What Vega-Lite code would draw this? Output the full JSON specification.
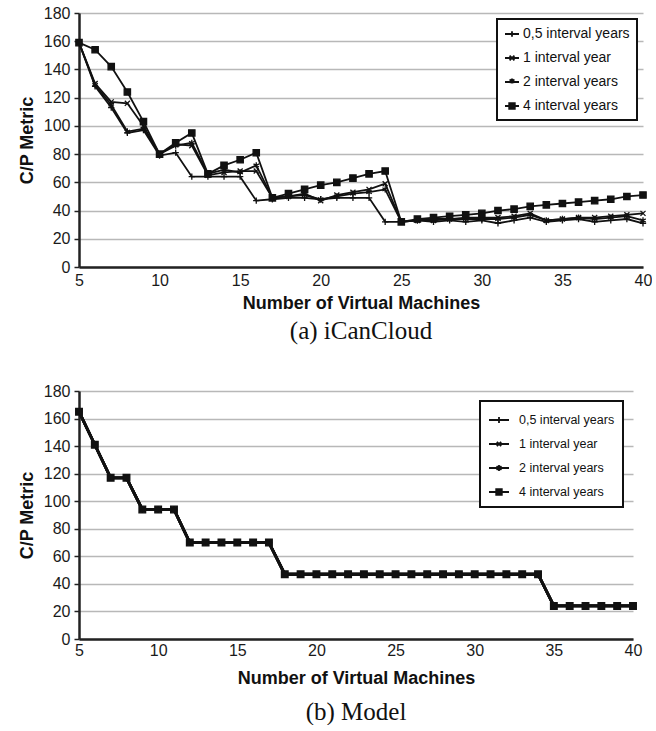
{
  "$schema": "https://vega.github.io/schema/vega-lite/v6.json",
  "background": "white",
  "padding": {"left": 18, "top": 5, "right": 0, "bottom": 0},
  "spacing": 39,
  "config": {
    "view": {"stroke": null},
    "font": "Liberation Sans",
    "axis": {
      "labelFont": "Liberation Sans", "labelFontSize": 16, "labelColor": "#1a1a1a",
      "titleFont": "Liberation Sans", "titleFontSize": 18, "titleFontWeight": "bold", "titleColor": "#111",
      "domainColor": "#222", "domainWidth": 2.5,
      "gridColor": "#b8b8b8", "gridWidth": 1.5,
      "tickColor": "#222", "tickWidth": 1.5
    },
    "legend": {
      "title": null, "orient": "top-right",
      "labelFont": "Liberation Sans", "labelColor": "#111",
      "strokeColor": "#111", "strokeWidth": 2, "fillColor": "white", "cornerRadius": 0,
      "symbolOpacity": 1, "symbolStrokeColor": "#111", "symbolStrokeWidth": 1.6
    }
  },
  "datasets": {
    "top": [
      {"series":"0,5 interval years","vms":5,"cp":159},{"series":"0,5 interval years","vms":6,"cp":128},{"series":"0,5 interval years","vms":7,"cp":113},{"series":"0,5 interval years","vms":8,"cp":95},{"series":"0,5 interval years","vms":9,"cp":97},{"series":"0,5 interval years","vms":10,"cp":79},{"series":"0,5 interval years","vms":11,"cp":81},{"series":"0,5 interval years","vms":12,"cp":64},{"series":"0,5 interval years","vms":13,"cp":64},{"series":"0,5 interval years","vms":14,"cp":64},{"series":"0,5 interval years","vms":15,"cp":64},{"series":"0,5 interval years","vms":16,"cp":47},{"series":"0,5 interval years","vms":17,"cp":48},{"series":"0,5 interval years","vms":18,"cp":49},{"series":"0,5 interval years","vms":19,"cp":49},{"series":"0,5 interval years","vms":20,"cp":48},{"series":"0,5 interval years","vms":21,"cp":49},{"series":"0,5 interval years","vms":22,"cp":49},{"series":"0,5 interval years","vms":23,"cp":49},{"series":"0,5 interval years","vms":24,"cp":32},{"series":"0,5 interval years","vms":25,"cp":32},{"series":"0,5 interval years","vms":26,"cp":33},{"series":"0,5 interval years","vms":27,"cp":32},{"series":"0,5 interval years","vms":28,"cp":33},{"series":"0,5 interval years","vms":29,"cp":32},{"series":"0,5 interval years","vms":30,"cp":33},{"series":"0,5 interval years","vms":31,"cp":31},{"series":"0,5 interval years","vms":32,"cp":33},{"series":"0,5 interval years","vms":33,"cp":35},{"series":"0,5 interval years","vms":34,"cp":32},{"series":"0,5 interval years","vms":35,"cp":33},{"series":"0,5 interval years","vms":36,"cp":34},{"series":"0,5 interval years","vms":37,"cp":32},{"series":"0,5 interval years","vms":38,"cp":33},{"series":"0,5 interval years","vms":39,"cp":34},{"series":"0,5 interval years","vms":40,"cp":31},
      {"series":"1 interval year","vms":5,"cp":159},{"series":"1 interval year","vms":6,"cp":130},{"series":"1 interval year","vms":7,"cp":117},{"series":"1 interval year","vms":8,"cp":116},{"series":"1 interval year","vms":9,"cp":100},{"series":"1 interval year","vms":10,"cp":80},{"series":"1 interval year","vms":11,"cp":87},{"series":"1 interval year","vms":12,"cp":86},{"series":"1 interval year","vms":13,"cp":65},{"series":"1 interval year","vms":14,"cp":67},{"series":"1 interval year","vms":15,"cp":68},{"series":"1 interval year","vms":16,"cp":68},{"series":"1 interval year","vms":17,"cp":49},{"series":"1 interval year","vms":18,"cp":50},{"series":"1 interval year","vms":19,"cp":52},{"series":"1 interval year","vms":20,"cp":47},{"series":"1 interval year","vms":21,"cp":51},{"series":"1 interval year","vms":22,"cp":53},{"series":"1 interval year","vms":23,"cp":55},{"series":"1 interval year","vms":24,"cp":59},{"series":"1 interval year","vms":25,"cp":32},{"series":"1 interval year","vms":26,"cp":33},{"series":"1 interval year","vms":27,"cp":33},{"series":"1 interval year","vms":28,"cp":34},{"series":"1 interval year","vms":29,"cp":35},{"series":"1 interval year","vms":30,"cp":35},{"series":"1 interval year","vms":31,"cp":35},{"series":"1 interval year","vms":32,"cp":36},{"series":"1 interval year","vms":33,"cp":38},{"series":"1 interval year","vms":34,"cp":33},{"series":"1 interval year","vms":35,"cp":34},{"series":"1 interval year","vms":36,"cp":35},{"series":"1 interval year","vms":37,"cp":35},{"series":"1 interval year","vms":38,"cp":36},{"series":"1 interval year","vms":39,"cp":37},{"series":"1 interval year","vms":40,"cp":38},
      {"series":"2 interval years","vms":5,"cp":159},{"series":"2 interval years","vms":6,"cp":129},{"series":"2 interval years","vms":7,"cp":115},{"series":"2 interval years","vms":8,"cp":96},{"series":"2 interval years","vms":9,"cp":98},{"series":"2 interval years","vms":10,"cp":80},{"series":"2 interval years","vms":11,"cp":86},{"series":"2 interval years","vms":12,"cp":88},{"series":"2 interval years","vms":13,"cp":66},{"series":"2 interval years","vms":14,"cp":69},{"series":"2 interval years","vms":15,"cp":67},{"series":"2 interval years","vms":16,"cp":72},{"series":"2 interval years","vms":17,"cp":49},{"series":"2 interval years","vms":18,"cp":50},{"series":"2 interval years","vms":19,"cp":51},{"series":"2 interval years","vms":20,"cp":48},{"series":"2 interval years","vms":21,"cp":50},{"series":"2 interval years","vms":22,"cp":52},{"series":"2 interval years","vms":23,"cp":53},{"series":"2 interval years","vms":24,"cp":55},{"series":"2 interval years","vms":25,"cp":32},{"series":"2 interval years","vms":26,"cp":33},{"series":"2 interval years","vms":27,"cp":34},{"series":"2 interval years","vms":28,"cp":34},{"series":"2 interval years","vms":29,"cp":34},{"series":"2 interval years","vms":30,"cp":34},{"series":"2 interval years","vms":31,"cp":34},{"series":"2 interval years","vms":32,"cp":35},{"series":"2 interval years","vms":33,"cp":37},{"series":"2 interval years","vms":34,"cp":33},{"series":"2 interval years","vms":35,"cp":34},{"series":"2 interval years","vms":36,"cp":35},{"series":"2 interval years","vms":37,"cp":34},{"series":"2 interval years","vms":38,"cp":35},{"series":"2 interval years","vms":39,"cp":36},{"series":"2 interval years","vms":40,"cp":33},
      {"series":"4 interval years","vms":5,"cp":159},{"series":"4 interval years","vms":6,"cp":154},{"series":"4 interval years","vms":7,"cp":142},{"series":"4 interval years","vms":8,"cp":124},{"series":"4 interval years","vms":9,"cp":103},{"series":"4 interval years","vms":10,"cp":80},{"series":"4 interval years","vms":11,"cp":88},{"series":"4 interval years","vms":12,"cp":95},{"series":"4 interval years","vms":13,"cp":66},{"series":"4 interval years","vms":14,"cp":72},{"series":"4 interval years","vms":15,"cp":76},{"series":"4 interval years","vms":16,"cp":81},{"series":"4 interval years","vms":17,"cp":49},{"series":"4 interval years","vms":18,"cp":52},{"series":"4 interval years","vms":19,"cp":55},{"series":"4 interval years","vms":20,"cp":58},{"series":"4 interval years","vms":21,"cp":60},{"series":"4 interval years","vms":22,"cp":63},{"series":"4 interval years","vms":23,"cp":66},{"series":"4 interval years","vms":24,"cp":68},{"series":"4 interval years","vms":25,"cp":32},{"series":"4 interval years","vms":26,"cp":34},{"series":"4 interval years","vms":27,"cp":35},{"series":"4 interval years","vms":28,"cp":36},{"series":"4 interval years","vms":29,"cp":37},{"series":"4 interval years","vms":30,"cp":38},{"series":"4 interval years","vms":31,"cp":40},{"series":"4 interval years","vms":32,"cp":41},{"series":"4 interval years","vms":33,"cp":43},{"series":"4 interval years","vms":34,"cp":44},{"series":"4 interval years","vms":35,"cp":45},{"series":"4 interval years","vms":36,"cp":46},{"series":"4 interval years","vms":37,"cp":47},{"series":"4 interval years","vms":38,"cp":48},{"series":"4 interval years","vms":39,"cp":50},{"series":"4 interval years","vms":40,"cp":51}
    ],
    "bottom": [
      {"series":"0,5 interval years","vms":5,"cp":165},{"series":"0,5 interval years","vms":6,"cp":141},{"series":"0,5 interval years","vms":7,"cp":117},{"series":"0,5 interval years","vms":8,"cp":117},{"series":"0,5 interval years","vms":9,"cp":94},{"series":"0,5 interval years","vms":10,"cp":94},{"series":"0,5 interval years","vms":11,"cp":94},{"series":"0,5 interval years","vms":12,"cp":70},{"series":"0,5 interval years","vms":13,"cp":70},{"series":"0,5 interval years","vms":14,"cp":70},{"series":"0,5 interval years","vms":15,"cp":70},{"series":"0,5 interval years","vms":16,"cp":70},{"series":"0,5 interval years","vms":17,"cp":70},{"series":"0,5 interval years","vms":18,"cp":47},{"series":"0,5 interval years","vms":19,"cp":47},{"series":"0,5 interval years","vms":20,"cp":47},{"series":"0,5 interval years","vms":21,"cp":47},{"series":"0,5 interval years","vms":22,"cp":47},{"series":"0,5 interval years","vms":23,"cp":47},{"series":"0,5 interval years","vms":24,"cp":47},{"series":"0,5 interval years","vms":25,"cp":47},{"series":"0,5 interval years","vms":26,"cp":47},{"series":"0,5 interval years","vms":27,"cp":47},{"series":"0,5 interval years","vms":28,"cp":47},{"series":"0,5 interval years","vms":29,"cp":47},{"series":"0,5 interval years","vms":30,"cp":47},{"series":"0,5 interval years","vms":31,"cp":47},{"series":"0,5 interval years","vms":32,"cp":47},{"series":"0,5 interval years","vms":33,"cp":47},{"series":"0,5 interval years","vms":34,"cp":47},{"series":"0,5 interval years","vms":35,"cp":24},{"series":"0,5 interval years","vms":36,"cp":24},{"series":"0,5 interval years","vms":37,"cp":24},{"series":"0,5 interval years","vms":38,"cp":24},{"series":"0,5 interval years","vms":39,"cp":24},{"series":"0,5 interval years","vms":40,"cp":24},
      {"series":"1 interval year","vms":5,"cp":165},{"series":"1 interval year","vms":6,"cp":141},{"series":"1 interval year","vms":7,"cp":117},{"series":"1 interval year","vms":8,"cp":117},{"series":"1 interval year","vms":9,"cp":94},{"series":"1 interval year","vms":10,"cp":94},{"series":"1 interval year","vms":11,"cp":94},{"series":"1 interval year","vms":12,"cp":70},{"series":"1 interval year","vms":13,"cp":70},{"series":"1 interval year","vms":14,"cp":70},{"series":"1 interval year","vms":15,"cp":70},{"series":"1 interval year","vms":16,"cp":70},{"series":"1 interval year","vms":17,"cp":70},{"series":"1 interval year","vms":18,"cp":47},{"series":"1 interval year","vms":19,"cp":47},{"series":"1 interval year","vms":20,"cp":47},{"series":"1 interval year","vms":21,"cp":47},{"series":"1 interval year","vms":22,"cp":47},{"series":"1 interval year","vms":23,"cp":47},{"series":"1 interval year","vms":24,"cp":47},{"series":"1 interval year","vms":25,"cp":47},{"series":"1 interval year","vms":26,"cp":47},{"series":"1 interval year","vms":27,"cp":47},{"series":"1 interval year","vms":28,"cp":47},{"series":"1 interval year","vms":29,"cp":47},{"series":"1 interval year","vms":30,"cp":47},{"series":"1 interval year","vms":31,"cp":47},{"series":"1 interval year","vms":32,"cp":47},{"series":"1 interval year","vms":33,"cp":47},{"series":"1 interval year","vms":34,"cp":47},{"series":"1 interval year","vms":35,"cp":24},{"series":"1 interval year","vms":36,"cp":24},{"series":"1 interval year","vms":37,"cp":24},{"series":"1 interval year","vms":38,"cp":24},{"series":"1 interval year","vms":39,"cp":24},{"series":"1 interval year","vms":40,"cp":24},
      {"series":"2 interval years","vms":5,"cp":165},{"series":"2 interval years","vms":6,"cp":141},{"series":"2 interval years","vms":7,"cp":117},{"series":"2 interval years","vms":8,"cp":117},{"series":"2 interval years","vms":9,"cp":94},{"series":"2 interval years","vms":10,"cp":94},{"series":"2 interval years","vms":11,"cp":94},{"series":"2 interval years","vms":12,"cp":70},{"series":"2 interval years","vms":13,"cp":70},{"series":"2 interval years","vms":14,"cp":70},{"series":"2 interval years","vms":15,"cp":70},{"series":"2 interval years","vms":16,"cp":70},{"series":"2 interval years","vms":17,"cp":70},{"series":"2 interval years","vms":18,"cp":47},{"series":"2 interval years","vms":19,"cp":47},{"series":"2 interval years","vms":20,"cp":47},{"series":"2 interval years","vms":21,"cp":47},{"series":"2 interval years","vms":22,"cp":47},{"series":"2 interval years","vms":23,"cp":47},{"series":"2 interval years","vms":24,"cp":47},{"series":"2 interval years","vms":25,"cp":47},{"series":"2 interval years","vms":26,"cp":47},{"series":"2 interval years","vms":27,"cp":47},{"series":"2 interval years","vms":28,"cp":47},{"series":"2 interval years","vms":29,"cp":47},{"series":"2 interval years","vms":30,"cp":47},{"series":"2 interval years","vms":31,"cp":47},{"series":"2 interval years","vms":32,"cp":47},{"series":"2 interval years","vms":33,"cp":47},{"series":"2 interval years","vms":34,"cp":47},{"series":"2 interval years","vms":35,"cp":24},{"series":"2 interval years","vms":36,"cp":24},{"series":"2 interval years","vms":37,"cp":24},{"series":"2 interval years","vms":38,"cp":24},{"series":"2 interval years","vms":39,"cp":24},{"series":"2 interval years","vms":40,"cp":24},
      {"series":"4 interval years","vms":5,"cp":165},{"series":"4 interval years","vms":6,"cp":141},{"series":"4 interval years","vms":7,"cp":117},{"series":"4 interval years","vms":8,"cp":117},{"series":"4 interval years","vms":9,"cp":94},{"series":"4 interval years","vms":10,"cp":94},{"series":"4 interval years","vms":11,"cp":94},{"series":"4 interval years","vms":12,"cp":70},{"series":"4 interval years","vms":13,"cp":70},{"series":"4 interval years","vms":14,"cp":70},{"series":"4 interval years","vms":15,"cp":70},{"series":"4 interval years","vms":16,"cp":70},{"series":"4 interval years","vms":17,"cp":70},{"series":"4 interval years","vms":18,"cp":47},{"series":"4 interval years","vms":19,"cp":47},{"series":"4 interval years","vms":20,"cp":47},{"series":"4 interval years","vms":21,"cp":47},{"series":"4 interval years","vms":22,"cp":47},{"series":"4 interval years","vms":23,"cp":47},{"series":"4 interval years","vms":24,"cp":47},{"series":"4 interval years","vms":25,"cp":47},{"series":"4 interval years","vms":26,"cp":47},{"series":"4 interval years","vms":27,"cp":47},{"series":"4 interval years","vms":28,"cp":47},{"series":"4 interval years","vms":29,"cp":47},{"series":"4 interval years","vms":30,"cp":47},{"series":"4 interval years","vms":31,"cp":47},{"series":"4 interval years","vms":32,"cp":47},{"series":"4 interval years","vms":33,"cp":47},{"series":"4 interval years","vms":34,"cp":47},{"series":"4 interval years","vms":35,"cp":24},{"series":"4 interval years","vms":36,"cp":24},{"series":"4 interval years","vms":37,"cp":24},{"series":"4 interval years","vms":38,"cp":24},{"series":"4 interval years","vms":39,"cp":24},{"series":"4 interval years","vms":40,"cp":24}
    ]
  },
  "vconcat": [
    {
      "width": 564, "height": 254,
      "data": {"name": "top"},
      "title": {"text": "(a) iCanCloud", "orient": "bottom", "anchor": "middle", "font": "Liberation Serif", "fontSize": 25, "fontWeight": "normal", "color": "#111", "offset": 7},
      "encoding": {
        "x": {"field": "vms", "type": "quantitative", "scale": {"domain": [5, 40], "nice": false, "zero": false},
              "axis": {"title": "Number of Virtual Machines", "values": [5,10,15,20,25,30,35,40], "grid": false, "ticks": false, "labelPadding": 5, "titlePadding": 6, "labelFlush": false}},
        "y": {"field": "cp", "type": "quantitative", "scale": {"domain": [0, 180], "nice": false},
              "axis": {"title": "C/P Metric", "values": [0,20,40,60,80,100,120,140,160,180], "tickSize": 5, "labelPadding": 4, "titlePadding": 7}}
      },
      "layer": [
        {"mark": {"type": "line", "color": "#111"},
         "encoding": {"detail": {"field": "series"},
                      "strokeWidth": {"field": "series", "type": "nominal", "scale": {"domain": ["0,5 interval years","1 interval year","2 interval years","4 interval years"], "range": [1.8, 1.8, 1.8, 3]}, "legend": null}}},
        {"mark": {"type": "point", "filled": true, "fill": "#111", "stroke": "#111", "strokeWidth": 1.3, "size": 40, "opacity": 1},
         "encoding": {"shape": {"field": "series", "type": "nominal", "scale": {"domain": ["0,5 interval years","1 interval year","2 interval years","4 interval years"], "range": ["M-1,0H1M0,-1V1", "M-0.8,-0.8L0.8,0.8M-0.8,0.8L0.8,-0.8", "M0,-1V1M-0.87,-0.5L0.87,0.5M-0.87,0.5L0.87,-0.5", "M-1,-1H1V1H-1Z"]}, "legend": null}}},
        {"mark": {"type": "point", "filled": false, "color": "#111", "opacity": 0, "size": 196},
         "encoding": {"shape": {"field": "series", "type": "nominal", "scale": {"domain": ["0,5 interval years","1 interval year","2 interval years","4 interval years"], "range": ["M-1,0H1M0,-0.4V0.4", "M-1,0H1M-0.35,-0.35L0.35,0.35M-0.35,0.35L0.35,-0.35", "M-1,0H1M0,-0.5V0.2M-0.35,-0.35L0.35,0.1M-0.35,0.1L0.35,-0.35", "M-1,0H1M-0.4,-0.4H0.4V0.4H-0.4ZM-0.4,-0.2H0.4M-0.4,0.2H0.4"]},
                      "legend": {"orient": "top-right", "offset": 6, "padding": 7, "labelFontSize": 14, "rowPadding": 9, "labelOffset": 3, "symbolSize": 196, "symbolStrokeWidth": 1.8}}}}
      ],
      "resolve": {"scale": {"shape": "independent"}}
    },
    {
      "width": 554, "height": 248,
      "data": {"name": "bottom"},
      "title": {"text": "(b) Model", "orient": "bottom", "anchor": "middle", "font": "Liberation Serif", "fontSize": 25, "fontWeight": "normal", "color": "#111", "offset": 13},
      "encoding": {
        "x": {"field": "vms", "type": "quantitative", "scale": {"domain": [5, 40], "nice": false, "zero": false},
              "axis": {"title": "Number of Virtual Machines", "values": [5,10,15,20,25,30,35,40], "grid": false, "ticks": false, "labelPadding": 3, "titlePadding": 11, "labelFlush": false}},
        "y": {"field": "cp", "type": "quantitative", "scale": {"domain": [0, 180], "nice": false},
              "axis": {"title": "C/P Metric", "values": [0,20,40,60,80,100,120,140,160,180], "tickSize": 5, "labelPadding": 4, "titlePadding": 7}}
      },
      "layer": [
        {"mark": {"type": "line", "color": "#111", "strokeWidth": 2.8},
         "encoding": {"detail": {"field": "series"}}},
        {"mark": {"type": "point", "filled": true, "fill": "#111", "stroke": "#111", "strokeWidth": 1.3, "size": 44, "opacity": 1},
         "encoding": {"shape": {"field": "series", "type": "nominal", "scale": {"domain": ["0,5 interval years","1 interval year","2 interval years","4 interval years"], "range": ["M-1,0H1M0,-1V1", "M-0.8,-0.8L0.8,0.8M-0.8,0.8L0.8,-0.8", "M0,-1V1M-0.87,-0.5L0.87,0.5M-0.87,0.5L0.87,-0.5", "M-1,-1H1V1H-1Z"]}, "legend": null}}},
        {"mark": {"type": "point", "filled": false, "color": "#111", "opacity": 0, "size": 400},
         "encoding": {"shape": {"field": "series", "type": "nominal", "scale": {"domain": ["0,5 interval years","1 interval year","2 interval years","4 interval years"], "range": ["M-1,0H1M0,-0.3V0.3", "M-1,0H1M-0.22,-0.22L0.22,0.22M-0.22,0.22L0.22,-0.22", "M-1,0H1M0,-0.3V0.3M-0.25,-0.18L0.25,0.18M-0.25,0.18L0.25,-0.18", "M-1,0H1M-0.28,-0.28H0.28V0.28H-0.28ZM-0.28,-0.14H0.28M-0.28,0.14H0.28"]},
                      "legend": {"orient": "top-right", "offset": 10, "padding": 8, "labelFontSize": 12.5, "rowPadding": 6, "labelOffset": 9, "symbolSize": 400, "symbolStrokeWidth": 1.8}}}}
      ],
      "resolve": {"scale": {"shape": "independent"}}
    }
  ]
}
